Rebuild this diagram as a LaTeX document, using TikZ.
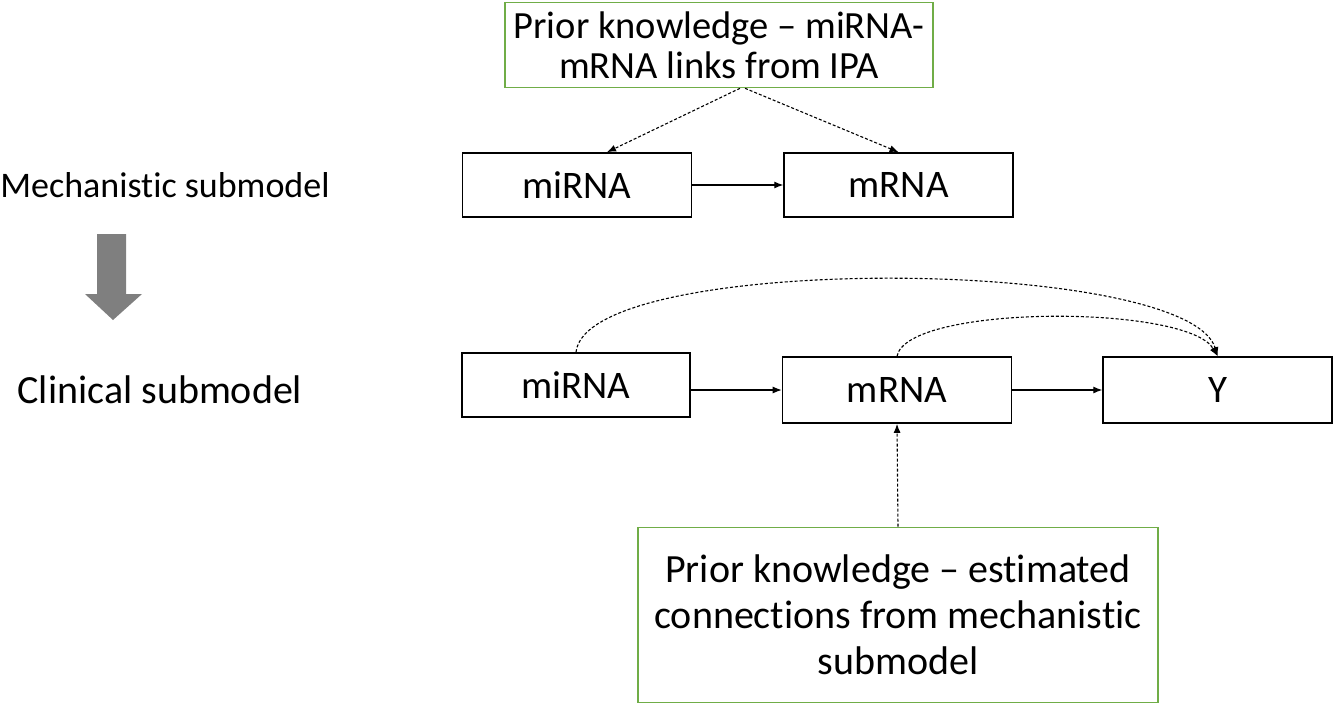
\documentclass[tikz,border=0pt]{standalone}
\usepackage{fontspec}
\setmainfont[Ligatures={NoCommon,NoRequired,NoContextual,NoRare}, Contextuals=NoAlternate]{Carlito}
\usetikzlibrary{arrows.meta, positioning}

\definecolor{priorgreen}{HTML}{70AD47}
\definecolor{stepgray}{HTML}{7F7F7F}

\begin{document}
\begin{tikzpicture}[x=1pt, y=1pt, >={Latex[length=9pt, width=7pt]}]
    \tikzstyle{varbox} = [draw, line width=1.6pt, minimum width=229pt, minimum height=64pt, inner sep=0pt, font=\fontsize{39}{44}\selectfont]
    \tikzstyle{priorbox} = [draw=priorgreen, line width=1.6pt, inner sep=0pt, align=center]
    \tikzstyle{sidelabel} = [font=\fontsize{36}{42}\selectfont]
    \tikzstyle{link} = [->, line width=1.1pt]
    \tikzstyle{priorlink} = [->, line width=1.1pt, dash pattern=on 3pt off 2pt]

    \useasboundingbox (0,0) rectangle (1341,-706);

    % side labels
    \node[sidelabel] (mech) at (165,-185) {Mechanistic submodel};
    \node[sidelabel, font=\fontsize{40}{46}\selectfont] (clin) at (160,-390) {Clinical submodel};
    \fill[stepgray] (97,-234) -- (126,-234) -- (126,-294) -- (142,-294)
        -- (113,-320) -- (85,-294) -- (97,-294) -- cycle;

    % mechanistic submodel
    \node[priorbox, minimum width=428pt, minimum height=85pt, font=\fontsize{38.5}{45}\selectfont] (ipa) at (719,-45)
        {Prior knowledge -- miRNA-\\[-5pt]mRNA links from IPA};
    \node[varbox] (miM) at (577,-185) {miRNA};
    \node[varbox, right=91pt of miM] (mrM) {mRNA};

    \draw[link] (miM) -- (mrM);
    \draw[priorlink] ([xshift=21pt]ipa.south) -- ([xshift=30pt]miM.north);
    \draw[priorlink] ([xshift=26pt]ipa.south) -- (mrM.north);

    % clinical submodel
    \node[varbox, minimum width=228pt] (miC) at (576,-385) {miRNA};
    \node[varbox, minimum height=66pt] (mrC) at (897,-390) {mRNA};
    \node[varbox, minimum height=66pt, right=90pt of mrC] (yC) {Y};
    \node[priorbox, minimum width=520pt, minimum height=175pt, font=\fontsize{40}{46}\selectfont] (est) at (898,-615)
        {Prior knowledge -- estimated\\connections from mechanistic\\submodel};

    \draw[link] (miC.east |- mrC.west) -- (mrC.west);
    \draw[link] (mrC) -- (yC);
    \draw[priorlink] (miC.north) .. controls +(10,100) and +(-30,100) .. (yC.north);
    \draw[priorlink] (mrC.north) .. controls +(10,52) and +(-30,52) .. (yC.north);
    \draw[priorlink] (est.north) -- (mrC.south);
\end{tikzpicture}
\end{document}
